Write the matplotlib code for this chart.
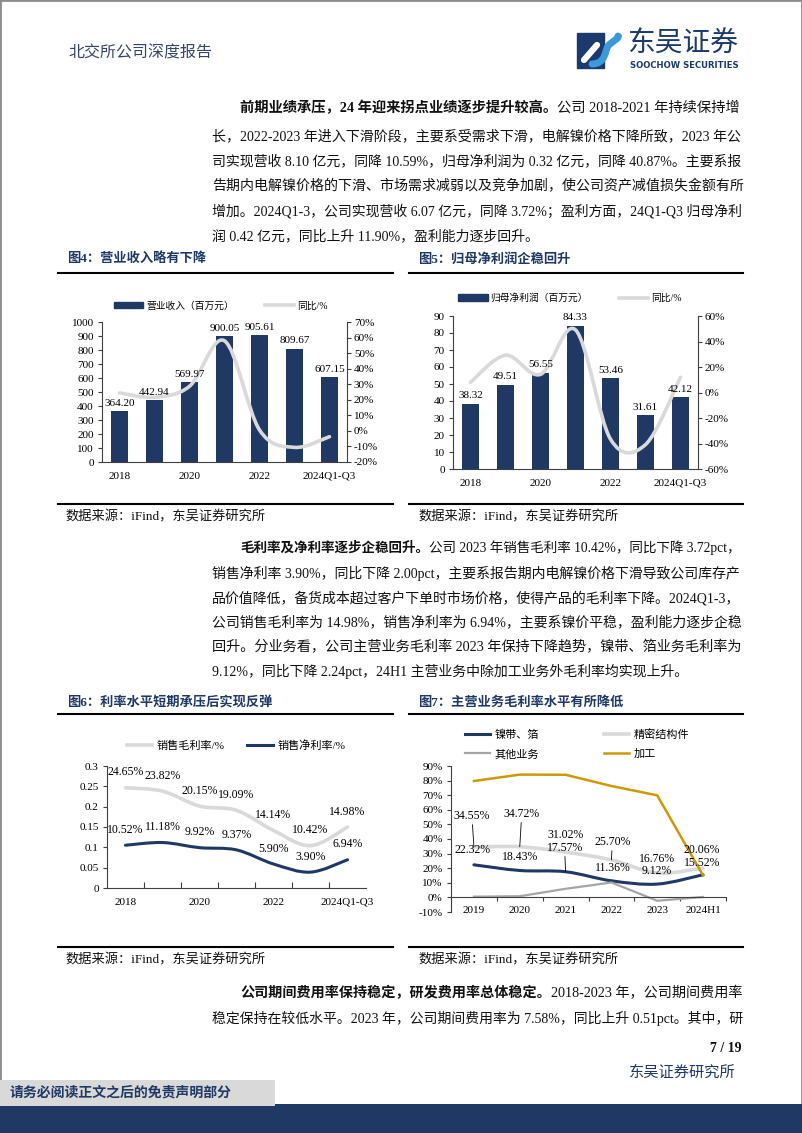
import numpy as np
import matplotlib
matplotlib.use('Agg')
import matplotlib.pyplot as plt
from matplotlib.path import Path
from matplotlib.patches import PathPatch, Rectangle, Patch, Polygon
from matplotlib.lines import Line2D
from matplotlib.ticker import FuncFormatter

plt.rcParams['font.family'] = ['Liberation Serif', 'Noto Sans CJK SC']
plt.rcParams['axes.unicode_minus'] = False

# ---------------- data ----------------
years_a = ['2018', '2019', '2020', '2021', '2022', '2023', '2024Q1-Q3']
revenue = [364.20, 442.94, 569.97, 900.05, 905.61, 809.67, 607.15]
revenue_yoy = [24.4, 21.62, 28.68, 57.91, 0.62, -10.59, -3.72]
profit = [38.32, 49.51, 56.55, 84.33, 53.46, 31.61, 42.12]
profit_yoy = [8.0, 29.20, 14.22, 49.12, -36.61, -40.87, 11.90]
gross_margin = [24.65, 23.82, 20.15, 19.09, 14.14, 10.42, 14.98]
net_margin = [10.52, 11.18, 9.92, 9.37, 5.90, 3.90, 6.94]
years_b = ['2019', '2020', '2021', '2022', '2023', '2024H1']
nickel_strip = [22.32, 18.43, 17.57, 11.36, 9.12, 15.52]
precision_parts = [34.55, 34.72, 31.02, 25.70, 16.76, 20.06]
other_business = [0.5, 0.8, 5.9, 10.2, -2.3, 0.3]
processing = [79.7, 84.1, 84.0, 76.3, 69.9, 15.0]

# ---------------- page setup ----------------
W, H = 802, 1133
fig = plt.figure(figsize=(W / 100, H / 100), dpi=100)
renderer = fig.canvas.get_renderer()

NAVY = '#1F3864'
LGRAY = '#D9D9D9'
MGRAY = '#A5A5A5'
GOLD = '#CC9A06'
TXT = '#111111'
AXC = '#404040'


def fx(x):
    return x / W


def fy(y):
    return 1 - y / H


def add_ax(l, t, r, b):
    return fig.add_axes([l / W, 1 - b / H, (r - l) / W, (b - t) / H])


def hline(x0, x1, y, lw=1.5, color='black'):
    fig.add_artist(Line2D([fx(x0), fx(x1)], [fy(y), fy(y)], color=color, lw=lw))


def text_line(segs, x0, y, x1=None, size=10, color=TXT):
    objs = []
    for s, b in segs:
        objs.append(fig.text(0, 0, s, fontsize=size, fontweight='bold' if b else 'normal',
                             va='center', ha='left', color=color))
    widths = [t.get_window_extent(renderer).width for t in objs]
    if x1 is not None:
        sc = (x1 - x0) / sum(widths)
        sc = min(max(sc, 0.88), 1.12)
        for t in objs:
            t.set_fontsize(size * sc)
        widths = [t.get_window_extent(renderer).width for t in objs]
    x = x0
    for t, w in zip(objs, widths):
        t.set_position((fx(x), fy(y)))
        x += w


def smooth(ax, xs, ys, **kw):
    P = np.column_stack([np.asarray(xs, float), np.asarray(ys, float)])
    n = len(P)
    verts = [P[0]]
    codes = [Path.MOVETO]
    for i in range(n - 1):
        p0 = P[i - 1] if i > 0 else P[i]
        p1, p2 = P[i], P[i + 1]
        p3 = P[i + 2] if i + 2 < n else P[i + 1]
        verts += [p1 + (p2 - p0) / 6, p2 - (p3 - p1) / 6, p2]
        codes += [Path.CURVE4] * 3
    ax.add_patch(PathPatch(Path(verts, codes), fill=False, capstyle='round',
                           joinstyle='round', **kw))


def base_style(ax):
    for s in ['top', 'right']:
        ax.spines[s].set_visible(False)
    for s in ['left', 'bottom']:
        ax.spines[s].set_color(AXC)
        ax.spines[s].set_linewidth(0.8)
    ax.tick_params(axis='y', labelsize=8, length=3, width=0.8, color=AXC, pad=3)
    ax.tick_params(axis='x', labelsize=8, length=0, pad=5)
    ax.set_facecolor('none')


def bar_combo(box, values, yoy, ylim, yticks, rlim, rticks, leg_label, leg_center, xpad):
    xa = np.arange(len(years_a))
    ax = add_ax(*box)
    base_style(ax)
    ax.bar(xa, values, width=0.46, color=NAVY)
    ax.set_xlim(-0.5, len(xa) - 0.5)
    ax.set_ylim(*ylim)
    ax.set_yticks(yticks)
    ax.set_xticks(xa[::2])
    ax.set_xticklabels(years_a[::2])
    ax.tick_params(axis='x', pad=xpad)
    ax2 = ax.twinx()
    ax2.set_ylim(*rlim)
    ax2.set_yticks(rticks)
    ax2.yaxis.set_major_formatter(FuncFormatter(lambda v, p: f'{round(v * 100):d}%'))
    for s in ['top', 'left', 'bottom']:
        ax2.spines[s].set_visible(False)
    ax2.spines['right'].set_color(AXC)
    ax2.spines['right'].set_linewidth(0.8)
    ax2.tick_params(axis='y', labelsize=8, length=3, width=0.8, color=AXC, pad=2)
    smooth(ax2, xa, np.array(yoy) / 100, edgecolor=LGRAY, lw=2.6)
    # value labels drawn on top of the yoy line
    for xi, v in zip(xa, values):
        ax2.annotate(f'{v:.2f}', (xi, v), xycoords=ax.transData, xytext=(0, 2.5),
                     textcoords='offset points', ha='center', va='bottom', fontsize=8)
    ax.legend(handles=[Patch(color=NAVY), Line2D([], [], color=LGRAY, lw=2.6)],
              labels=[leg_label, '同比/%'], ncol=2, loc='center',
              bbox_to_anchor=(fx(leg_center[0]), fy(leg_center[1])), bbox_transform=fig.transFigure,
              frameon=False, fontsize=7, handlelength=3.0, handleheight=0.6, handletextpad=0.3,
              columnspacing=3.2, borderpad=0, borderaxespad=0)


# page frame
fig.add_artist(Rectangle((0, 0), 1, 1, transform=fig.transFigure, fill=False,
                         edgecolor='#8C8C8C', lw=2))

# header
fig.text(fx(68), fy(53), '北交所公司深度报告', fontsize=11.5, color='#34446A', va='center')
# logo
fig.add_artist(Polygon([[fx(577), fy(33)], [fx(604), fy(33)], [fx(604), fy(68)], [fx(577), fy(68)]],
                       closed=True, transform=fig.transFigure, color='#1B3A6E'))
fig.add_artist(Line2D([fx(584), fx(597)], [fy(60), fy(45)], color='white', lw=4.5,
                      solid_capstyle='round'))
logo_path = Path([(fx(592), fy(64)), (fx(606), fy(64)), (fx(605), fy(50)), (fx(608), fy(46)),
                  (fx(611), fy(42)), (fx(620), fy(38)), (fx(618), fy(36))],
                 [Path.MOVETO, Path.CURVE4, Path.CURVE4, Path.CURVE4, Path.CURVE4,
                  Path.CURVE4, Path.CURVE4])
fig.add_artist(PathPatch(logo_path, transform=fig.transFigure, fill=False,
                         edgecolor='#3A9AD9', lw=5, capstyle='round'))
fig.text(fx(627), fy(45), '东吴证券', fontsize=20, color='#1B3A6E', va='center')
t = fig.text(fx(630), fy(65), 'SOOCHOW SECURITIES', fontsize=6.5, fontweight='bold',
             family='DejaVu Sans', color='#1B3A6E', va='center')
w = t.get_window_extent(renderer).width
t.set_fontsize(6.5 * 110 / w)

# ---------------- paragraph 1 ----------------
L, R = 212, 742
p1y = [108, 136, 161, 186, 211, 236]
text_line([('前期业绩承压，24 年迎来拐点业绩逐步提升较高。', True),
           ('公司 2018-2021 年持续保持增', False)], 240, p1y[0], R)
text_line([('长，2022-2023 年进入下滑阶段，主要系受需求下滑，电解镍价格下降所致，2023 年公', False)], L, p1y[1], R)
text_line([('司实现营收 8.10 亿元，同降 10.59%，归母净利润为 0.32 亿元，同降 40.87%。主要系报', False)], L, p1y[2], R)
text_line([('告期内电解镍价格的下滑、市场需求减弱以及竞争加剧，使公司资产减值损失金额有所', False)], L, p1y[3], R)
text_line([('增加。2024Q1-3，公司实现营收 6.07 亿元，同降 3.72%；盈利方面，24Q1-Q3 归母净利', False)], L, p1y[4], R)
text_line([('润 0.42 亿元，同比上升 11.90%，盈利能力逐步回升。', False)], L, p1y[5])

# ---------------- paragraph 2 ----------------
p2y = [548, 573, 598, 622, 647, 671]
text_line([('毛利率及净利率逐步企稳回升。', True),
           ('公司 2023 年销售毛利率 10.42%，同比下降 3.72pct，', False)], 240, p2y[0], R)
text_line([('销售净利率 3.90%，同比下降 2.00pct，主要系报告期内电解镍价格下滑导致公司库存产', False)], L, p2y[1], R)
text_line([('品价值降低，备货成本超过客户下单时市场价格，使得产品的毛利率下降。2024Q1-3，', False)], L, p2y[2], R)
text_line([('公司销售毛利率为 14.98%，销售净利率为 6.94%，主要系镍价平稳，盈利能力逐步企稳', False)], L, p2y[3], R)
text_line([('回升。分业务看，公司主营业务毛利率 2023 年保持下降趋势，镍带、箔业务毛利率为', False)], L, p2y[4], R)
text_line([('9.12%，同比下降 2.24pct，24H1 主营业务中除加工业务外毛利率均实现上升。', False)], L, p2y[5])

# ---------------- paragraph 3 ----------------
text_line([('公司期间费用率保持稳定，研发费用率总体稳定。', True),
           ('2018-2023 年，公司期间费用率', False)], 240, 993, R)
text_line([('稳定保持在较低水平。2023 年，公司期间费用率为 7.58%，同比上升 0.51pct。其中，研', False)], L, 1018, R)

# ---------------- figure titles / rules / sources ----------------
for x0, y0, title in [(67, 259, '图4：营业收入略有下降'), (418, 259, '图5：归母净利润企稳回升'),
                      (67, 703, '图6：利率水平短期承压后实现反弹'), (418, 703, '图7：主营业务毛利率水平有所降低')]:
    fig.text(fx(x0), fy(y0), title, fontsize=9.5, fontweight='bold', color=NAVY, va='center')
for y0 in [273, 504, 714, 947]:
    hline(58, 393, y0)
    hline(409, 743, y0)
for x0, y0 in [(65, 517), (418, 517), (65, 960), (418, 960)]:
    fig.text(fx(x0), fy(y0), '数据来源：iFind，东吴证券研究所', fontsize=9.5, color=TXT, va='center')

# ---------------- Figure 4 & 5 ----------------
bar_combo((102, 322, 347, 462), revenue, revenue_yoy, (0, 1000), np.arange(0, 1001, 100),
          (-0.2, 0.7), np.arange(-0.2, 0.71, 0.1), '营业收入（百万元）', (221, 306), 7)
bar_combo((453, 316, 698, 469), profit, profit_yoy, (0, 90), np.arange(0, 91, 10),
          (-0.6, 0.6), np.arange(-0.6, 0.61, 0.2), '归母净利润（百万元）', (570, 298), 7)

# ---------------- Figure 6 ----------------
xa = np.arange(len(years_a))
ax = add_ax(107, 766, 366, 888)
base_style(ax)
ax.set_xlim(-0.5, len(xa) - 0.5)
ax.set_ylim(0, 0.3)
ax.set_yticks(np.arange(0, 0.301, 0.05))
ax.yaxis.set_major_formatter(FuncFormatter(lambda v, p: f'{v:g}' if abs(v) > 1e-9 else '0'))
ax.set_xticks(xa[::2])
ax.set_xticklabels(years_a[::2])
ax.set_xticks(np.arange(0.5, len(xa) - 0.5, 1), minor=True)
ax.tick_params(axis='x', which='minor', direction='in', length=4, width=0.8, color=AXC)
ax.tick_params(axis='x', which='major', pad=7)
smooth(ax, xa, np.array(gross_margin) / 100, edgecolor=LGRAY, lw=2.6)
smooth(ax, xa, np.array(net_margin) / 100, edgecolor=NAVY, lw=2.2)
for xi, v in zip(xa, gross_margin):
    ax.annotate(f'{v:.2f}%', (xi, v / 100), xytext=(0, 11), textcoords='offset points',
                ha='center', va='center', fontsize=8.5)
for xi, v in zip(xa, net_margin):
    ax.annotate(f'{v:.2f}%', (xi, v / 100), xytext=(0, 11), textcoords='offset points',
                ha='center', va='center', fontsize=8.5)
ax.legend(handles=[Line2D([], [], color=LGRAY, lw=2.6), Line2D([], [], color=NAVY, lw=2.2)],
          labels=['销售毛利率/%', '销售净利率/%'], ncol=2, loc='center',
          bbox_to_anchor=(fx(236), fy(746)), bbox_transform=fig.transFigure, frameon=False,
          fontsize=8, handlelength=2.3, handletextpad=0.4, columnspacing=2.0,
          borderpad=0, borderaxespad=0)

# ---------------- Figure 7 ----------------
xb = np.arange(len(years_b))
ax = add_ax(451, 766, 726, 912)
base_style(ax)
ax.set_xlim(-0.5, len(xb) - 0.5)
ax.set_ylim(-0.1, 0.9)
ax.spines['bottom'].set_position(('data', 0))
ax.set_yticks(np.arange(-0.1, 0.901, 0.1))
ax.yaxis.set_major_formatter(FuncFormatter(lambda v, p: f'{round(v * 100):d}%'))
ax.set_xticks(xb)
ax.set_xticklabels(years_b)
ax.set_xticks(np.arange(-0.5, len(xb), 1), minor=True)
ax.tick_params(axis='x', which='minor', direction='out', length=3, width=0.8, color=AXC)
ax.tick_params(axis='x', which='major', length=0, pad=6)
ax.plot(xb, np.array(other_business) / 100, color=MGRAY, lw=1.6)
smooth(ax, xb, np.array(precision_parts) / 100, edgecolor=LGRAY, lw=2.6)
smooth(ax, xb, np.array(nickel_strip) / 100, edgecolor=NAVY, lw=2.2)
ax.plot(xb, np.array(processing) / 100, color=GOLD, lw=1.8)

k = 0.72  # px -> pt
nickel_off = [(-1, 15, False), (0, 13, False), (-1, 24, True), (1, 13, False), (0, 13, False), (-1, 12, False)]
parts_off = [(-2, 31, True), (2, 33, True), (0, 17, False), (1, 18, True), (0, 14, False), (-1, 18, False)]
for series, offs in [(precision_parts, parts_off), (nickel_strip, nickel_off)]:
    for xi, v, (dx, dy, lead) in zip(xb, series, offs):
        ap = dict(arrowstyle='-', color='black', lw=0.6, shrinkA=0, shrinkB=0) if lead else None
        ax.annotate(f'{v:.2f}%', (xi, v / 100), xytext=(dx * k, dy * k), textcoords='offset points',
                    ha='center', va='center', fontsize=8.5, arrowprops=ap)
ax.legend(handles=[Line2D([], [], color=NAVY, lw=2.2), Line2D([], [], color=MGRAY, lw=1.6),
                   Line2D([], [], color=LGRAY, lw=2.6), Line2D([], [], color=GOLD, lw=1.8)],
          labels=['镍带、箔', '其他业务', '精密结构件', '加工'], ncol=2, loc='center',
          bbox_to_anchor=(fx(577), fy(744)), bbox_transform=fig.transFigure, frameon=False,
          fontsize=8, handlelength=2.3, handletextpad=0.4, columnspacing=5.8,
          labelspacing=0.85, borderpad=0, borderaxespad=0)

# ---------------- footer ----------------
fig.text(fx(742), fy(1048), '7 / 19', ha='right', va='center', fontsize=10, fontweight='bold', color=TXT)
fig.text(fx(736), fy(1073), '东吴证券研究所', ha='right', va='center', fontsize=11, color=NAVY)
fig.add_artist(Rectangle((0, fy(1133)), 1, (1133 - 1104) / H, transform=fig.transFigure,
                         color=NAVY, lw=0))
fig.add_artist(Rectangle((0, fy(1106)), fx(275), 26 / H, transform=fig.transFigure,
                         color='#D9D9D9', lw=0))
fig.text(fx(10), fy(1093), '请务必阅读正文之后的免责声明部分', va='center', fontsize=10,
         fontweight='bold', color=NAVY)

fig.savefig('out.png', dpi=100)
